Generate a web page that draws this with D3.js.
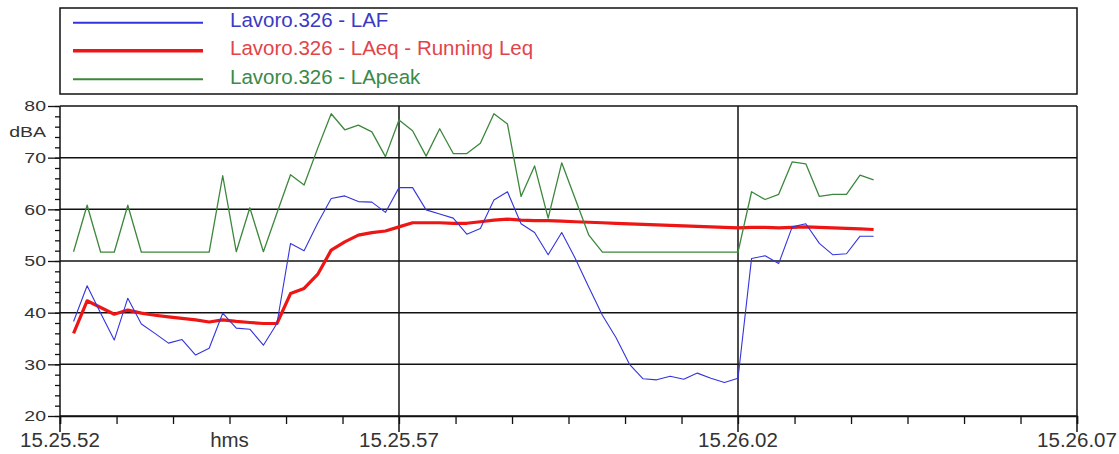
<!DOCTYPE html>
<html>
<head>
<meta charset="utf-8">
<script src="https://cdn.jsdelivr.net/npm/d3@7"></script>
<style>
  body { margin: 0; background: #fff; }
  svg { display: block; font-family: "Liberation Sans", Arial, sans-serif; }
</style>
</head>
<body>
<svg id="chart" width="1119" height="454"></svg>
<script>
// ---- data -------------------------------------------------------------
const seriesNames = [
  "Lavoro.326 - LAF",
  "Lavoro.326 - LAeq - Running Leq",
  "Lavoro.326 - LApeak"
];
const startClock = "15.25.52";      // clock time at the left edge
const sampleStepSec = 0.2;          // one sample every 200 ms, first at +0.2 s
const xTickLabels = ["15.25.52", "15.25.57", "15.26.02", "15.26.07"];
const yTickValues = [20, 30, 40, 50, 60, 70, 80];
const yUnit = "dBA";
const xUnit = "hms";

const lafValues = [
  38.3, 45.2, 39.9, 34.7, 42.8, 37.8, 36.0, 34.1, 34.8, 31.8,
  33.1, 39.9, 37.0, 36.8, 33.7, 37.9, 53.4, 52.0, 57.3, 62.1,
  62.6, 61.5, 61.4, 59.4, 64.2, 64.2, 59.9, 59.1, 58.3, 55.2,
  56.3, 61.8, 63.4, 57.2, 55.5, 51.2, 55.5, 50.5, 44.9, 39.5,
  35.2, 30.0, 27.2, 27.0, 27.7, 27.1, 28.3, 27.3, 26.5, 27.3,
  50.5, 51.0, 49.5, 56.6, 57.2, 53.4, 51.2, 51.4, 54.8, 54.8
];
const leqValues = [
  36.0, 42.3, 41.0, 39.7, 40.5, 39.9, 39.5, 39.2, 38.9, 38.6,
  38.2, 38.6, 38.3, 38.1, 37.9, 37.9, 43.7, 44.7, 47.4, 52.1,
  53.7, 55.0, 55.5, 55.8, 56.6, 57.4, 57.4, 57.4, 57.3, 57.3,
  57.6, 57.9, 58.1, 57.9, 57.8, 57.8, 57.7, 57.6, 57.5, 57.4,
  57.3, 57.2, 57.1, 57.0, 56.9, 56.8, 56.7, 56.6, 56.5, 56.4,
  56.5, 56.5, 56.4, 56.5, 56.6, 56.5, 56.4, 56.3, 56.2, 56.1
];
const lpeakValues = [
  51.8, 60.8, 51.7, 51.7, 60.8, 51.7, 51.7, 51.7, 51.7, 51.7,
  51.7, 66.5, 51.8, 60.3, 51.8, 59.3, 66.7, 64.7, 71.8, 78.5,
  75.4, 76.3, 75.0, 70.2, 77.3, 75.2, 70.3, 75.6, 70.8, 70.8,
  72.8, 78.5, 76.5, 62.5, 68.4, 58.3, 69.0, 62.0, 55.0, 51.7,
  51.7, 51.7, 51.7, 51.7, 51.7, 51.7, 51.7, 51.7, 51.7, 51.7,
  63.4, 61.9, 62.9, 69.2, 68.8, 62.5, 62.9, 62.9, 66.6, 65.7
];

const lineColors = ["#3434dc", "#ee1515", "#3c873c"];
const textColors = ["#3a3ac4", "#e2444a", "#3a8a48"];
const lineWidths = [1.1, 3.2, 1.3];
const legendWidths = [2, 3.6, 2];

// ---- layout -----------------------------------------------------------
const plot = { left: 60, right: 1077, top: 106, bottom: 416 };
const svg = d3.select("#chart");

const parseClock = d3.timeParse("%H.%M.%S");
const t0 = parseClock(startClock);
const majorTimes = xTickLabels.map(parseClock);
const tEnd = majorTimes[majorTimes.length - 1];

const x = d3.scaleTime().domain([t0, tEnd]).range([plot.left, plot.right]);
const y = d3.scaleLinear().domain([20, 80]).range([plot.bottom, plot.top]);

const timeAt = i => new Date(t0.getTime() + (i + 1) * sampleStepSec * 1000);

// minor x ticks: six divisions per labelled interval
const spanMs = tEnd - t0;
const minorTimes = d3.range(0, 19).map(k => new Date(t0.getTime() + k * spanMs / 18));

// ---- legend -------------------------------------------------------------
const legend = svg.append("g");
legend.append("rect")
  .attr("x", plot.left).attr("y", 8)
  .attr("width", plot.right - plot.left).attr("height", 86)
  .attr("fill", "none").attr("stroke", "#111").attr("stroke-width", 1.5);

const legendRowY = [22.7, 50.7, 79.3];
seriesNames.forEach((name, i) => {
  legend.append("line")
    .attr("x1", 73).attr("x2", 203)
    .attr("y1", legendRowY[i]).attr("y2", legendRowY[i])
    .attr("stroke", lineColors[i]).attr("stroke-width", legendWidths[i]);
  legend.append("text")
    .attr("x", 230).attr("y", legendRowY[i] + 4.5)
    .attr("font-size", 20.5)
    .attr("fill", textColors[i])
    .text(name);
});

// ---- grid ---------------------------------------------------------------
const grid = svg.append("g").attr("stroke", "#111").attr("stroke-width", 1.5);
grid.selectAll("line.h").data(yTickValues).join("line")
  .attr("x1", plot.left).attr("x2", plot.right)
  .attr("y1", d => y(d)).attr("y2", d => y(d));
grid.selectAll("line.v").data(majorTimes).join("line")
  .attr("x1", d => x(d)).attr("x2", d => x(d))
  .attr("y1", plot.top).attr("y2", plot.bottom + 16);

// ---- y axis ---------------------------------------------------------------
const yMinor = d3.range(20, 81, 2);
svg.append("g")
  .attr("transform", `translate(${plot.left},0)`)
  .call(d3.axisLeft(y).tickValues(yMinor).tickSize(5).tickFormat(""))
  .call(g => g.select(".domain").remove())
  .call(g => g.selectAll("line").attr("stroke", "#111").attr("stroke-width", 1.3));

const yStretch = 1.3;
svg.append("g")
  .attr("transform", `translate(${plot.left},0)`)
  .call(d3.axisLeft(y).tickValues(yTickValues).tickSize(12).tickPadding(2))
  .call(g => g.select(".domain").remove())
  .call(g => g.selectAll("line").attr("stroke", "#111").attr("stroke-width", 1.3))
  .call(g => g.selectAll("text")
    .attr("font-size", 15)
    .attr("font-family", "'Liberation Sans', Arial, sans-serif")
    .attr("fill", "#333")
    .attr("x", -14 / yStretch)
    .attr("transform", `scale(${yStretch},1)`));

svg.append("text")
  .attr("transform", `translate(${plot.left - 14},${y(75)}) scale(${yStretch},1)`)
  .attr("dy", "0.35em")
  .attr("text-anchor", "end")
  .attr("font-size", 15)
  .attr("fill", "#333")
  .text(yUnit);

// ---- x axis ---------------------------------------------------------------
svg.append("g")
  .attr("transform", `translate(0,${plot.bottom})`)
  .call(d3.axisBottom(x).tickValues(minorTimes).tickSize(8).tickFormat(""))
  .call(g => g.select(".domain").attr("stroke", "#111").attr("stroke-width", 1.5))
  .call(g => g.selectAll("line").attr("stroke", "#111").attr("stroke-width", 1.3));

svg.append("g").selectAll("text").data(majorTimes).join("text")
  .attr("x", d => x(d)).attr("y", 447)
  .attr("text-anchor", "middle")
  .attr("font-size", 20.5)
  .attr("fill", "#333")
  .text((d, i) => xTickLabels[i]);

svg.append("text")
  .attr("x", x(minorTimes[3])).attr("y", 447)
  .attr("text-anchor", "middle")
  .attr("font-size", 20.5)
  .attr("fill", "#333")
  .text(xUnit);

// ---- series ---------------------------------------------------------------
const line = d3.line().x((d, i) => x(timeAt(i))).y(d => y(d));
const seriesData = [lafValues, leqValues, lpeakValues];
const drawOrder = [1, 0, 2];
drawOrder.forEach(i => {
  svg.append("path")
    .datum(seriesData[i])
    .attr("fill", "none")
    .attr("stroke", lineColors[i])
    .attr("stroke-width", lineWidths[i])
    .attr("stroke-linejoin", "round")
    .attr("d", line);
});
</script>
</body>
</html>
